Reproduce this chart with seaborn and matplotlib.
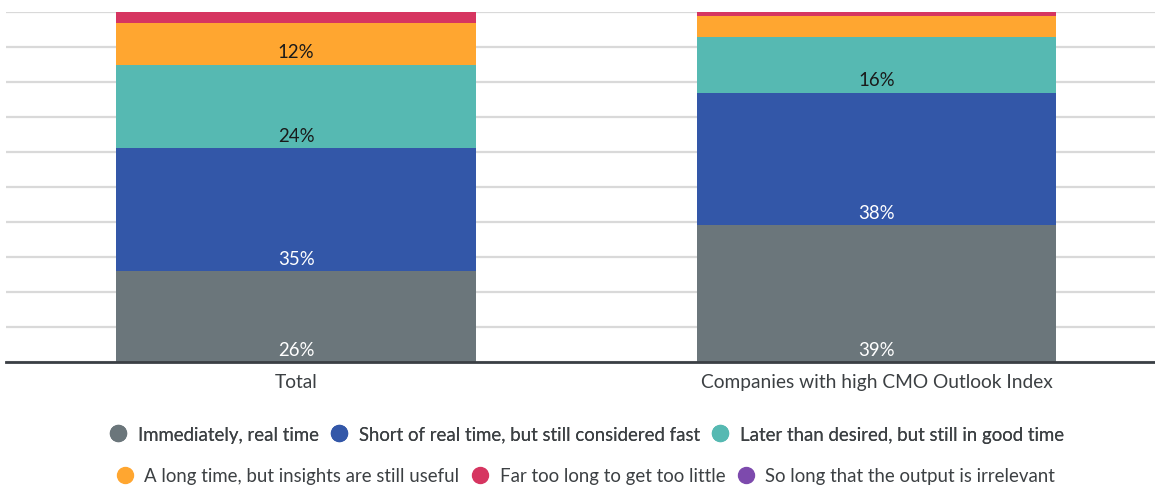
import numpy as np
import matplotlib.pyplot as plt
import seaborn as sns
from matplotlib.lines import Line2D

# data
categories = ["Total", "Companies with high CMO Outlook Index"]
series = [
    "Immediately, real time",
    "Short of real time, but still considered fast",
    "Later than desired, but still in good time",
    "A long time, but insights are still useful",
    "Far too long to get too little",
    "So long that the output is irrelevant",
]
immediately = [26, 39]
short_of_real = [35, 38]
later_than = [24, 16]
long_time = [12, 6]
far_too_long = [3, 1]
so_long = [0, 0]
values = [immediately, short_of_real, later_than, long_time, far_too_long, so_long]

colors = ["#6b767b", "#3357a8", "#56b9b2", "#ffa630", "#d63560", "#7d4aad"]
label_colors = ["white", "white", "#1a1a1a", "#1a1a1a", None, None]

sns.set_style("white")
plt.rcParams['font.family'] = ['Lato', 'DejaVu Sans']

fig = plt.figure(figsize=(11.55, 4.89), dpi=100)
ax = fig.add_axes([0.0052, 0.2577, 0.9948, 0.7157])

bottoms = np.zeros(len(categories))
for vals, col, lcol in zip(values, colors, label_colors):
    sns.barplot(x=categories, y=vals, bottom=bottoms, color=col, width=0.62,
                saturation=1, ax=ax, zorder=3, linewidth=0, edgecolor=col)
    if lcol is not None:
        for i, v in enumerate(vals):
            if v >= 10:
                ax.text(i, bottoms[i] + 3.6, f"{v}%", ha="center", va="center",
                        color=lcol, fontsize=13.4, zorder=4)
    bottoms = bottoms + np.array(vals)

ax.set_ylim(0, 100)
ax.set_xlim(-0.5, 1.48)
ax.set_yticks(np.arange(0, 101, 10))
ax.yaxis.grid(True, color="#d9d9d9", linewidth=1.6, zorder=0)
ax.set_yticklabels([])
ax.tick_params(axis="y", length=0)
ax.tick_params(axis="x", length=0, labelsize=13.8, labelcolor="#3c4043", pad=8)
for s in ["top", "right", "left"]:
    ax.spines[s].set_visible(False)
ax.spines["bottom"].set_color("#3a3f44")
ax.spines["bottom"].set_linewidth(2)
ax.spines["bottom"].set_zorder(5)
ax.set_ylabel("")

def handle(c):
    return Line2D([], [], marker="o", linestyle="", markersize=11.5,
                  markerfacecolor=c, markeredgecolor=c)

leg_kw = dict(ncol=3, loc="center", frameon=False, fontsize=13.4,
              labelcolor="#3c4043", handletextpad=0.45, columnspacing=0.5,
              handlelength=1.2)
leg1 = fig.legend([handle(c) for c in colors[:3]], series[:3],
                  bbox_to_anchor=(0.507, 0.11), **leg_kw)
fig.add_artist(leg1)
fig.legend([handle(c) for c in colors[3:]], series[3:],
           bbox_to_anchor=(0.506, 0.025), **leg_kw)

fig.savefig("out.png", dpi=100)
